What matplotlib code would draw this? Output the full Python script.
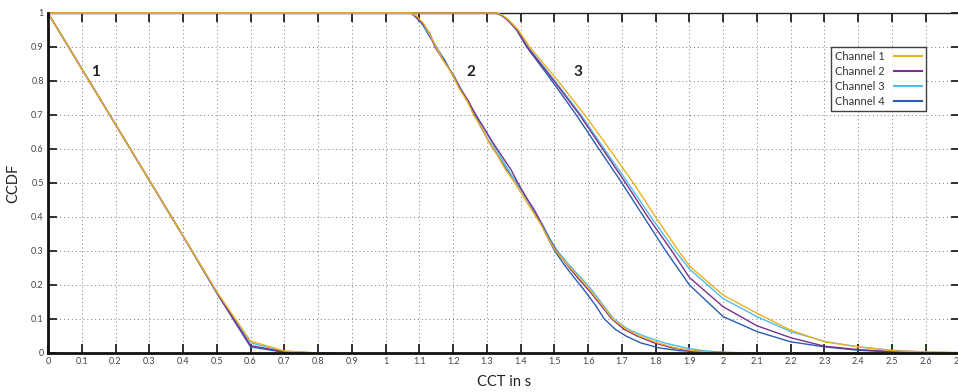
import matplotlib
matplotlib.use("Agg")
import matplotlib.pyplot as plt
from matplotlib.ticker import MultipleLocator, FuncFormatter

plt.rcParams['font.family'] = ['Lato', 'DejaVu Sans']

channels = ["Channel 1", "Channel 2", "Channel 3", "Channel 4"]
colors = ["#EDB120", "#7E2F8E", "#4DBEEE", "#2A5DAE"]

# Scenario 1: same sampled CCDF for all channels, only the tail differs
x1 = [0.0, 0.1, 0.2, 0.3, 0.4, 0.5, 0.6, 0.7, 0.8, 0.84]
y1 = {
    "Channel 1": [1.0, 0.836, 0.672, 0.508, 0.344, 0.180, 0.035, 0.006, 0.0, 0.0],
    "Channel 2": [1.0, 0.836, 0.672, 0.508, 0.344, 0.178, 0.022, 0.003, 0.0, 0.0],
    "Channel 3": [1.0, 0.836, 0.672, 0.508, 0.344, 0.179, 0.030, 0.005, 0.0, 0.0],
    "Channel 4": [1.0, 0.836, 0.672, 0.508, 0.344, 0.176, 0.018, 0.002, 0.0, 0.0],
}

# Scenario 2: empirical CCDFs
y2 = [1.0, 1.0, 0.99, 0.97, 0.94, 0.90, 0.86, 0.82, 0.78, 0.74, 0.70, 0.66, 0.62,
      0.58, 0.54, 0.50, 0.46, 0.42, 0.38, 0.34, 0.30, 0.26, 0.22, 0.18, 0.14,
      0.10, 0.07, 0.05, 0.03, 0.015, 0.007, 0.002, 0.0, 0.0]
x2 = {
    "Channel 1": [0.0, 1.075, 1.093, 1.112, 1.130, 1.149, 1.171, 1.198, 1.217, 1.242,
                  1.261, 1.286, 1.306, 1.332, 1.355, 1.383, 1.408, 1.433, 1.459, 1.480,
                  1.504, 1.539, 1.576, 1.610, 1.642, 1.673, 1.713, 1.752, 1.805, 1.86,
                  1.91, 1.98, 2.08, 2.7],
    "Channel 2": [0.0, 1.075, 1.088, 1.108, 1.131, 1.146, 1.172, 1.199, 1.220, 1.246,
                  1.267, 1.292, 1.317, 1.344, 1.371, 1.392, 1.415, 1.441, 1.462, 1.482,
                  1.506, 1.537, 1.570, 1.606, 1.638, 1.670, 1.706, 1.745, 1.795, 1.85,
                  1.90, 1.98, 2.05, 2.7],
    "Channel 3": [0.0, 1.075, 1.086, 1.106, 1.128, 1.151, 1.172, 1.200, 1.222, 1.243,
                  1.268, 1.293, 1.314, 1.339, 1.363, 1.387, 1.413, 1.439, 1.464, 1.485,
                  1.509, 1.543, 1.580, 1.615, 1.645, 1.676, 1.718, 1.765, 1.825, 1.89,
                  1.94, 2.00, 2.10, 2.7],
    "Channel 4": [0.0, 1.075, 1.091, 1.107, 1.125, 1.150, 1.176, 1.197, 1.218, 1.244,
                  1.264, 1.285, 1.307, 1.333, 1.358, 1.389, 1.415, 1.437, 1.460, 1.480,
                  1.501, 1.529, 1.560, 1.592, 1.622, 1.648, 1.680, 1.712, 1.755, 1.81,
                  1.87, 1.95, 2.05, 2.7],
}

# Scenario 3: smooth CCDFs
x3 = {
    "Channel 1": [0.0, 1.330, 1.347, 1.362, 1.377, 1.393, 1.427, 1.511, 1.590, 1.663,
                  1.734, 1.800, 1.868, 1.9, 2.0, 2.1, 2.2, 2.3, 2.4, 2.5, 2.6, 2.7],
    "Channel 2": [0.0, 1.327, 1.344, 1.359, 1.374, 1.390, 1.420, 1.499, 1.575, 1.643,
                  1.711, 1.777, 1.848, 1.9, 2.0, 2.1, 2.2, 2.3, 2.4, 2.5, 2.6, 2.7],
    "Channel 3": [0.0, 1.328, 1.345, 1.360, 1.375, 1.391, 1.422, 1.502, 1.579, 1.648,
                  1.718, 1.786, 1.858, 1.9, 2.0, 2.1, 2.2, 2.3, 2.4, 2.5, 2.6, 2.7],
    "Channel 4": [0.0, 1.327, 1.343, 1.358, 1.373, 1.388, 1.418, 1.493, 1.565, 1.632,
                  1.700, 1.765, 1.830, 1.9, 2.0, 2.1, 2.2, 2.3, 2.4, 2.5, 2.6, 2.7],
}
y3 = {
    "Channel 1": [1.0, 1.0, 0.993, 0.982, 0.967, 0.95, 0.90, 0.80, 0.70, 0.60, 0.50,
                  0.40, 0.30, 0.256, 0.170, 0.117, 0.067, 0.033, 0.018, 0.007, 0.003, 0.001],
    "Channel 2": [1.0, 1.0, 0.993, 0.982, 0.967, 0.95, 0.90, 0.80, 0.70, 0.60, 0.50,
                  0.40, 0.30, 0.222, 0.136, 0.080, 0.045, 0.020, 0.010, 0.004, 0.001, 0.0],
    "Channel 3": [1.0, 1.0, 0.993, 0.982, 0.967, 0.95, 0.90, 0.80, 0.70, 0.60, 0.50,
                  0.40, 0.30, 0.247, 0.160, 0.107, 0.063, 0.034, 0.018, 0.008, 0.003, 0.001],
    "Channel 4": [1.0, 1.0, 0.993, 0.982, 0.967, 0.95, 0.90, 0.80, 0.70, 0.60, 0.50,
                  0.40, 0.30, 0.200, 0.107, 0.063, 0.033, 0.018, 0.008, 0.003, 0.001, 0.0],
}

group_labels = ["1", "2", "3"]
group_label_x = [0.142, 1.253, 1.571]
group_label_y = [0.826, 0.826, 0.826]

fig = plt.figure(figsize=(9.58, 3.92), dpi=100)
ax = fig.add_axes([48 / 958, 1 - 353 / 392, (959.5 - 48) / 958, 340 / 392])

handles = {}
for i in reversed(range(4)):
    ch = channels[i]
    c = colors[i]
    z = 3 + (4 - i)
    h, = ax.plot(x1, y1[ch], color=c, lw=1.0, zorder=z, clip_on=False)
    ax.plot(x2[ch], y2, color=c, lw=1.0, zorder=z, clip_on=False)
    ax.plot(x3[ch], y3[ch], color=c, lw=1.0, zorder=z, clip_on=False)
    handles[ch] = h

for t, gx, gy in zip(group_labels, group_label_x, group_label_y):
    ax.text(gx, gy, t, fontsize=11, fontweight='bold', color='#222222',
            ha='center', va='center', zorder=10)

ax.set_xlim(0, 2.7)
ax.set_ylim(0, 1)
ax.xaxis.set_major_locator(MultipleLocator(0.1))
ax.yaxis.set_major_locator(MultipleLocator(0.1))
fmt = FuncFormatter(lambda v, p: f"{round(v, 2):g}")
ax.xaxis.set_major_formatter(fmt)
ax.yaxis.set_major_formatter(fmt)

ax.tick_params(axis='both', which='major', direction='in', labelsize=6.5,
               labelcolor='#444444', color='#111111', length=6.5, width=1.2,
               top=True, right=True, pad=3)
ax.grid(True, color='#777777', linestyle=(0, (1, 3)), linewidth=0.7)
ax.set_axisbelow(True)

for side in ['left', 'bottom']:
    ax.spines[side].set_linewidth(2.0)
    ax.spines[side].set_color('#111111')
    ax.spines[side].set_zorder(20)
ax.spines['top'].set_linewidth(1.0)
ax.spines['top'].set_color('#222222')
ax.spines['right'].set_linewidth(1.0)

ax.set_xlabel("CCT in s", fontsize=10.5, color='#222222', labelpad=6)
ax.set_ylabel("CCDF", fontsize=10.5, color='#222222', labelpad=8)

leg = ax.legend([handles[c] for c in channels], channels, loc='upper left',
                bbox_to_anchor=(0.859, 0.901), fontsize=8, markerfirst=False,
                frameon=True, fancybox=False, handlelength=2.6,
                borderpad=0.35, labelspacing=0.37, handletextpad=0.8,
                borderaxespad=0)
leg.get_frame().set_edgecolor('#111111')
leg.get_frame().set_linewidth(1.0)
for line in leg.get_lines():
    line.set_linewidth(1.5)
for txt in leg.get_texts():
    txt.set_color('#333333')

fig.savefig("out.png", dpi=100)
